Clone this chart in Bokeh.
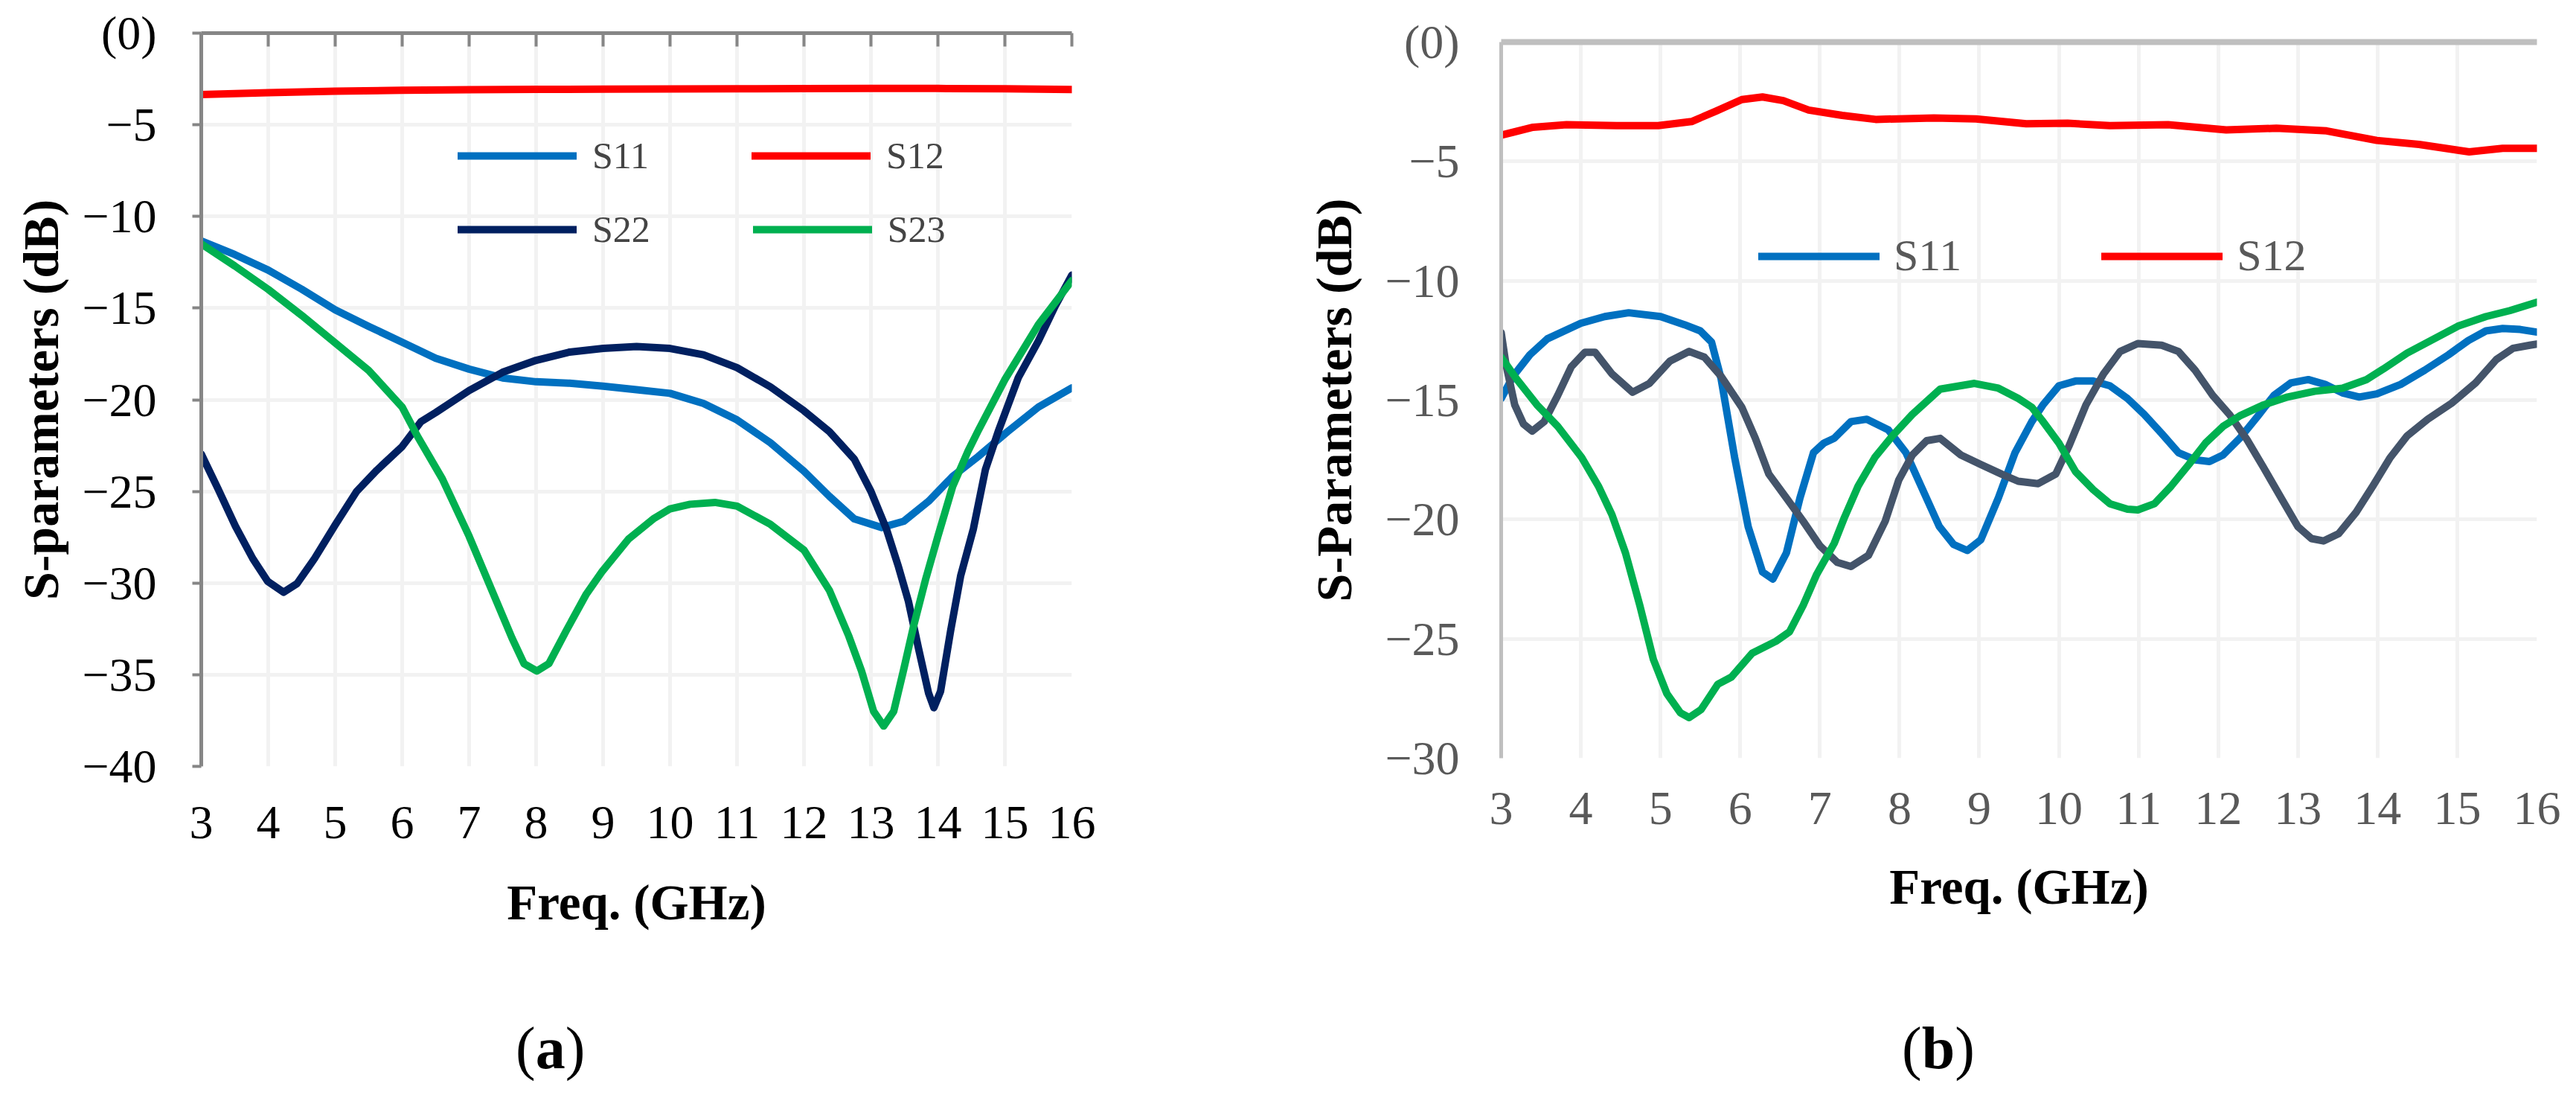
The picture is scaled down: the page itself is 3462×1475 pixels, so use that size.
from bokeh.plotting import figure
from bokeh.layouts import row, column
from bokeh.models import (FixedTicker, LinearAxis, Legend, LegendItem, Range1d,
                          Spacer, CustomJSTickFormatter, Div)
from bokeh.embed import file_html
from bokeh.resources import INLINE

# ---- panel (a) data ----
s11_a_x = [3, 3.5, 4, 4.5, 5, 5.5, 6, 6.5, 7, 7.5, 8, 8.5, 9, 9.5, 10, 10.5, 11, 11.5, 12,
           12.38, 12.75, 13.16, 13.49, 13.86, 14.22, 14.6, 15.04, 15.5, 16]
s11_a_y = [-11.33, -12.08, -12.93, -13.97, -15.1, -16.0, -16.86, -17.74, -18.33, -18.81, -19.02,
           -19.1, -19.26, -19.45, -19.65, -20.2, -21.1, -22.35, -23.9, -25.27, -26.5, -26.97,
           -26.63, -25.54, -24.18, -23.1, -21.74, -20.4, -19.35]

s12_a_x = [3, 4, 5, 6, 7, 8, 9, 10, 11, 12, 13, 14, 15, 16]
s12_a_y = [-3.35, -3.25, -3.17, -3.12, -3.09, -3.07, -3.06, -3.05, -3.04, -3.03, -3.02, -3.02,
           -3.04, -3.08]

s22_a_x = [3, 3.25, 3.51, 3.77, 3.99, 4.23, 4.43, 4.69, 5, 5.32, 5.62, 6, 6.28, 6.5, 7, 7.5, 8,
           8.5, 9, 9.5, 10, 10.5, 11, 11.5, 12, 12.38, 12.75, 13.0, 13.23, 13.41, 13.56, 13.71,
           13.86, 13.94, 14.04, 14.19, 14.34, 14.53, 14.71, 14.9, 15.2, 15.5, 15.75, 16]
s22_a_y = [-22.96, -24.86, -26.9, -28.67, -29.9, -30.5, -30.03, -28.67, -26.83, -25.0, -23.85,
           -22.55, -21.2, -20.7, -19.5, -18.5, -17.85, -17.4, -17.2, -17.1, -17.2, -17.55, -18.25,
           -19.3, -20.6, -21.74, -23.23, -25.0, -27.04, -29.1, -31.0, -33.56, -36.0, -36.8,
           -35.9, -32.6, -29.6, -27.04, -23.8, -21.74, -18.8, -16.8, -14.9, -13.2]

s23_a_x = [3, 3.5, 4, 4.5, 5, 5.5, 6, 6.23, 6.6, 7.0, 7.34, 7.64, 7.82, 8.01, 8.19, 8.45, 8.75,
           8.99, 9.38, 9.75, 10.0, 10.3, 10.67, 11, 11.5, 12.0, 12.38, 12.67, 12.86, 13.04,
           13.19, 13.34, 13.49, 13.64, 13.82, 14.0, 14.22, 14.45, 14.6, 15, 15.5, 16]
s23_a_y = [-11.5, -12.7, -13.98, -15.4, -16.9, -18.4, -20.4, -22.0, -24.32, -27.45, -30.4,
           -33.0, -34.4, -34.8, -34.4, -32.6, -30.6, -29.35, -27.6, -26.5, -25.95, -25.7, -25.6,
           -25.8, -26.8, -28.2, -30.4, -32.9, -34.8, -37.0, -37.8, -37.0, -34.7, -32.3, -29.75,
           -27.45, -24.73, -22.8, -21.7, -18.9, -15.9, -13.5]

# ---- panel (b) data ----
s11_b_x = [3.0, 3.15, 3.36, 3.58, 4.0, 4.3, 4.6, 5.0, 5.3, 5.5, 5.64, 5.76, 5.93, 6.1, 6.28,
           6.41, 6.58, 6.75, 6.92, 7.05, 7.18, 7.39, 7.59, 7.86, 8.08, 8.29, 8.5, 8.68, 8.85,
           9.02, 9.24, 9.45, 9.66, 9.8, 10.0, 10.21, 10.43, 10.64, 10.86, 11.07, 11.29, 11.5,
           11.71, 11.89, 12.06, 12.27, 12.49, 12.7, 12.91, 13.13, 13.34, 13.56, 13.77, 13.99,
           14.29, 14.59, 14.89, 15.14, 15.36, 15.57, 15.79, 16.0]
s11_b_y = [-14.93, -14.0, -13.1, -12.43, -11.78, -11.5, -11.34, -11.5, -11.84, -12.1, -12.57,
           -14.1, -17.4, -20.3, -22.2, -22.5, -21.4, -19.1, -17.2, -16.8, -16.6, -15.9, -15.8,
           -16.25, -17.2, -18.75, -20.3, -21.05, -21.3, -20.85, -19.1, -17.2, -15.9, -15.2,
           -14.4, -14.2, -14.2, -14.4, -14.93, -15.6, -16.4, -17.2, -17.5, -17.57, -17.3, -16.6,
           -15.7, -14.8, -14.28, -14.14, -14.34, -14.7, -14.87, -14.74, -14.34, -13.75, -13.1,
           -12.5, -12.1, -12.0, -12.04, -12.15]

s12_b_x = [3.0, 3.4, 3.82, 4.45, 4.97, 5.39, 5.7, 6.02, 6.28, 6.54, 6.86, 7.28, 7.7, 8.43,
           8.96, 9.59, 10.11, 10.64, 11.37, 12.1, 12.73, 13.36, 13.99, 14.52, 15.15, 15.57, 16.0]
s12_b_y = [-3.9, -3.57, -3.46, -3.5, -3.5, -3.33, -2.89, -2.41, -2.3, -2.45, -2.85, -3.07,
           -3.24, -3.18, -3.22, -3.42, -3.4, -3.5, -3.46, -3.68, -3.61, -3.72, -4.12, -4.29,
           -4.6, -4.45, -4.45]

s22_b_x = [3.0, 3.06, 3.17, 3.28, 3.39, 3.54, 3.71, 3.88, 4.05, 4.18, 4.39, 4.65, 4.86, 5.12,
           5.36, 5.55, 5.76, 6.02, 6.19, 6.36, 6.58, 6.79, 7.0, 7.22, 7.39, 7.61, 7.82, 7.99,
           8.16, 8.34, 8.51, 8.77, 9.02, 9.28, 9.49, 9.74, 9.96, 10.13, 10.34, 10.56, 10.77,
           10.99, 11.29, 11.5, 11.71, 11.93, 12.14, 12.36, 12.57, 12.79, 13.0, 13.17, 13.32,
           13.51, 13.73, 13.94, 14.16, 14.37, 14.63, 14.93, 15.23, 15.49, 15.7, 15.91, 16.0]
s22_b_y = [-12.17, -13.5, -15.2, -16.0, -16.3, -15.9, -14.8, -13.6, -13.0, -13.0, -13.9, -14.67,
           -14.3, -13.36, -12.96, -13.2, -14.0, -15.3, -16.6, -18.1, -19.1, -20.07, -21.1, -21.8,
           -21.97, -21.5, -20.07, -18.35, -17.3, -16.7, -16.6, -17.3, -17.7, -18.1, -18.4,
           -18.5, -18.1, -16.9, -15.2, -13.9, -12.96, -12.63, -12.7, -12.96, -13.75, -14.8,
           -15.6, -16.65, -17.83, -19.1, -20.3, -20.8, -20.9, -20.6, -19.7, -18.6, -17.4, -16.5,
           -15.8, -15.13, -14.28, -13.3, -12.83, -12.7, -12.65]

s23_b_x = [3.0, 3.19, 3.45, 3.71, 4.01, 4.22, 4.39, 4.56, 4.74, 4.91, 5.08, 5.25, 5.36, 5.51,
           5.72, 5.89, 6.15, 6.45, 6.62, 6.79, 6.96, 7.18, 7.31, 7.48, 7.69, 7.91, 8.16, 8.51,
           8.94, 9.24, 9.49, 9.66, 9.79, 10.0, 10.21, 10.43, 10.64, 10.86, 10.99, 11.2, 11.41,
           11.63, 11.84, 12.06, 12.27, 12.57, 12.87, 13.21, 13.56, 13.86, 14.07, 14.37, 14.71,
           15.01, 15.36, 15.66, 16.0]
s23_b_y = [-13.2, -14.1, -15.2, -16.1, -17.4, -18.6, -19.8, -21.4, -23.6, -25.86, -27.3, -28.1,
           -28.3, -27.96, -26.9, -26.6, -25.6, -25.1, -24.7, -23.6, -22.3, -21.0, -19.9, -18.6,
           -17.4, -16.5, -15.6, -14.54, -14.3, -14.5, -14.93, -15.3, -15.85, -16.8, -18.0,
           -18.75, -19.34, -19.57, -19.6, -19.34, -18.6, -17.7, -16.8, -16.1, -15.66, -15.2,
           -14.87, -14.63, -14.5, -14.14, -13.7, -13.03, -12.43, -11.9, -11.5, -11.25, -10.9]

x_ticks = list(range(3, 17))
y_ticks_a = list(range(-40, 1, 5))
y_ticks_b = list(range(-30, 1, 5))

FONT = "Liberation Serif"
BLUE, RED, GREEN = "#0070C0", "#FF0000", "#00B050"
NAVY, SLATE = "#002060", "#44546A"
GRID = "#F2F2F2"


def ylabels(ticks):
    return {t: ("(0)" if t == 0 else "\u2212" + str(-t)) for t in ticks}


def make_panel(width, height, borders, y_lo, y_ticks, ytitle, axis_col, label_col):
    left, right, top, bottom = borders
    p = figure(width=width, height=height, output_backend="svg", toolbar_location=None,
               x_range=Range1d(3, 16), y_range=Range1d(y_lo, 0),
               min_border_left=left, min_border_right=right,
               min_border_top=top, min_border_bottom=bottom,
               x_axis_location=None, y_axis_location=None)
    p.outline_line_color = None

    xb = LinearAxis(ticker=FixedTicker(ticks=x_ticks))
    xb.axis_line_color = None
    xb.major_tick_line_color = None
    xb.minor_tick_line_color = None
    xb.major_tick_out = 0
    xb.major_label_text_font = FONT
    xb.major_label_text_font_size = "64px"
    xb.major_label_text_color = label_col
    xb.axis_label = "Freq. (GHz)"
    xb.axis_label_text_font = FONT
    xb.axis_label_text_font_size = "67px"
    xb.axis_label_text_font_style = "bold"
    xb.axis_label_text_color = "black"
    p.add_layout(xb, "below")

    yl = LinearAxis(ticker=FixedTicker(ticks=y_ticks))
    yl.major_label_overrides = ylabels(y_ticks)
    yl.axis_line_color = axis_col
    yl.axis_line_width = 5
    yl.minor_tick_line_color = None
    yl.major_label_text_font = FONT
    yl.major_label_text_font_size = "64px"
    yl.major_label_text_color = label_col
    yl.axis_label = ytitle
    yl.axis_label_text_font = FONT
    yl.axis_label_text_font_size = "68px"
    yl.axis_label_text_font_style = "bold"
    yl.axis_label_text_color = "black"
    p.add_layout(yl, "left")

    # top axis: line (and ticks) only, no labels
    xt = LinearAxis(ticker=FixedTicker(ticks=x_ticks),
                    formatter=CustomJSTickFormatter(code="return ''"))
    xt.axis_line_color = axis_col
    xt.minor_tick_line_color = None
    xt.major_label_standoff = 0
    p.add_layout(xt, "above")

    p.xgrid.ticker = FixedTicker(ticks=x_ticks)
    p.ygrid.ticker = FixedTicker(ticks=y_ticks)
    for g in (p.xgrid[0], p.ygrid[0]):
        g.grid_line_color = GRID
        g.grid_line_width = 5
    return p, xb, yl, xt


def caption(letter, width, pad_left):
    # "(a)" style caption: parentheses regular, letter bold
    return Div(text="(<b>%s</b>)" % letter, width=width, height=95, margin=0,
               styles={"font-family": FONT, "font-size": "80px", "line-height": "80px",
                       "color": "black", "padding-left": "%dpx" % pad_left,
                       "white-space": "nowrap", "box-sizing": "border-box"})


# ---------------- panel (a) ----------------
pa, xba, yla, xta = make_panel(1708, 1368, (270, 268, 44, 339), -40, y_ticks_a,
                               "S-parameters (dB)", "#868686", "black")
yla.major_tick_out = 12
yla.major_tick_in = 0
yla.major_tick_line_color = "#868686"
yla.major_tick_line_width = 4
yla.major_label_standoff = 48
yla.axis_label_standoff = 14
xta.axis_line_width = 5
xta.major_tick_in = 18
xta.major_tick_out = 0
xta.major_tick_line_color = "#868686"
xta.major_tick_line_width = 4
xba.major_label_standoff = 54
xba.axis_label_standoff = 46

ra = {}
for name, xs, ys, col in [("S11", s11_a_x, s11_a_y, BLUE), ("S12", s12_a_x, s12_a_y, RED),
                          ("S22", s22_a_x, s22_a_y, NAVY), ("S23", s23_a_x, s23_a_y, GREEN)]:
    ra[name] = pa.line(xs, ys, line_color=col, line_width=10, line_join="round",
                       line_cap="round")

for names, yloc in [(("S11", "S12"), 791), (("S22", "S23"), 692)]:
    leg = Legend(items=[LegendItem(label=n, renderers=[ra[n]]) for n in names],
                 orientation="horizontal", location=(345, yloc), spacing=138,
                 glyph_width=160, glyph_height=50, label_height=50, label_standoff=21,
                 label_text_font=FONT, label_text_font_size="50px",
                 label_text_baseline="middle", padding=0, margin=0,
                 border_line_color=None, background_fill_alpha=0)
    pa.add_layout(leg)

# ---------------- panel (b) ----------------
pb, xbb, ylb, xtb = make_panel(1754, 1348, (309, 53, 36, 350), -30, y_ticks_b,
                               "S-Parameters (dB)", "#BFBFBF", "#595959")
ylb.major_tick_line_color = None
ylb.major_tick_out = 0
ylb.major_tick_in = 0
ylb.major_label_standoff = 56
ylb.axis_label_standoff = 27
xtb.axis_line_width = 8
xtb.major_tick_line_color = None
xtb.major_tick_in = 0
xtb.major_tick_out = 0
xbb.major_label_standoff = 46
xbb.axis_label_standoff = 44

rb = {}
for name, xs, ys, col in [("S11", s11_b_x, s11_b_y, BLUE), ("S12", s12_b_x, s12_b_y, RED),
                          ("S22", s22_b_x, s22_b_y, SLATE), ("S23", s23_b_x, s23_b_y, GREEN)]:
    rb[name] = pb.line(xs, ys, line_color=col, line_width=10, line_join="round",
                       line_cap="round")

legb = Legend(items=[LegendItem(label=n, renderers=[rb[n]]) for n in ("S11", "S12")],
              orientation="horizontal", location=(346, 640), spacing=188,
              glyph_width=163, glyph_height=62, label_height=62, label_standoff=19,
              label_text_font=FONT, label_text_font_size="60px", label_text_color="#595959",
              label_text_baseline="middle", padding=0, margin=0,
              border_line_color=None, background_fill_alpha=0)
pb.add_layout(legb)

plots = row(pa, column(Spacer(width=1754, height=20, margin=0), pb))
captions = row(caption("a", 1708, 693), caption("b", 1754, 848))
layout = column(plots, captions)
open("out.html", "w").write(file_html(layout, INLINE))
